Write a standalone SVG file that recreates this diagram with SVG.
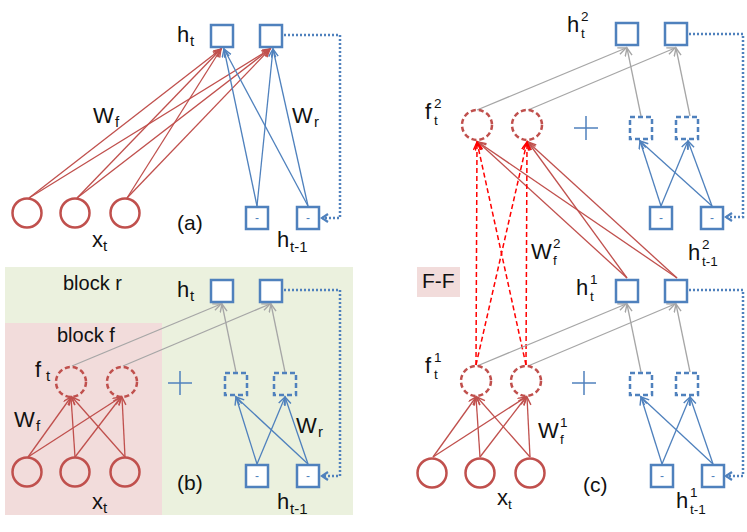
<svg xmlns="http://www.w3.org/2000/svg" width="747" height="532" viewBox="0 0 747 532">
<style>
text{font-family:"Liberation Sans",Arial,sans-serif;fill:#111}
.m{font-size:22px}
.s{font-size:15px}
.t{font-size:13.5px}
.p{font-size:21px}
.b{font-size:20px}
.box{fill:#fff;stroke:#4F81BD;stroke-width:2.5}
.dbox{fill:none;stroke:#4F81BD;stroke-width:2.5;stroke-dasharray:5 3}
.cir{fill:none;stroke:#C0504D;stroke-width:2.5}
.dcir{fill:none;stroke:#C0504D;stroke-width:2.5;stroke-dasharray:5 3}
.minus{font-size:12px;fill:#4F81BD;text-anchor:middle}
.r{stroke:#C0504D;stroke-width:1.3;fill:none;marker-end:url(#ar)}
.bl{stroke:#4F81BD;stroke-width:1.3;fill:none;marker-end:url(#ab)}
.g{stroke:#A6A6A6;stroke-width:1.3;fill:none;marker-end:url(#ag)}
.rd{stroke:#FF0000;stroke-width:1.5;fill:none;stroke-dasharray:5 3;marker-end:url(#ard)}
.dot{stroke:#4F81BD;stroke-width:2.5;fill:none;stroke-dasharray:2 2;marker-end:url(#adot)}
.plus{stroke:#4F81BD;stroke-width:1.5}
</style>
<defs>
<marker id="ar" markerUnits="userSpaceOnUse" markerWidth="12" markerHeight="12" refX="9" refY="4" orient="auto"><path d="M1,0.5 L9,4 L1,7.5" fill="none" stroke="#C0504D" stroke-width="1.4"/></marker>
<marker id="ab" markerUnits="userSpaceOnUse" markerWidth="12" markerHeight="12" refX="9" refY="4" orient="auto"><path d="M1,0.5 L9,4 L1,7.5" fill="none" stroke="#4F81BD" stroke-width="1.4"/></marker>
<marker id="ag" markerUnits="userSpaceOnUse" markerWidth="12" markerHeight="12" refX="9" refY="4" orient="auto"><path d="M1,0.5 L9,4 L1,7.5" fill="none" stroke="#A6A6A6" stroke-width="1.4"/></marker>
<marker id="ard" markerUnits="userSpaceOnUse" markerWidth="12" markerHeight="12" refX="9" refY="4" orient="auto"><path d="M1,0.5 L9,4 L1,7.5" fill="none" stroke="#FF0000" stroke-width="1.5"/></marker>
<marker id="adot" markerUnits="userSpaceOnUse" markerWidth="12" markerHeight="12" refX="7" refY="5" orient="auto"><path d="M1,1 L7,5 L1,9" fill="none" stroke="#4F81BD" stroke-width="2.2"/></marker>
</defs>

<g id="backgrounds">
<rect x="5" y="267" width="348" height="248" fill="#EBF1DE"/>
<rect x="5" y="323" width="157" height="192" fill="#F2DCDB"/>
<rect x="417" y="267" width="43" height="30" fill="#F2DCDB"/>
</g>

<g id="connectors">
<!-- panel a -->
<line class="r" x1="29" y1="198" x2="221" y2="49"/>
<line class="r" x1="29" y1="198" x2="270" y2="49"/>
<line class="r" x1="77" y1="198" x2="221" y2="49"/>
<line class="r" x1="77" y1="198" x2="270" y2="49"/>
<line class="r" x1="127" y1="198" x2="221" y2="49"/>
<line class="r" x1="127" y1="198" x2="270" y2="49"/>
<line class="bl" x1="257" y1="206" x2="224" y2="49"/>
<line class="bl" x1="257" y1="206" x2="273" y2="49"/>
<line class="bl" x1="308" y1="206" x2="224" y2="49"/>
<line class="bl" x1="308" y1="206" x2="273" y2="49"/>
<path class="dot" d="M284,35 H340 V218 H322"/>
<!-- panel b -->
<line class="g" x1="72" y1="366" x2="221" y2="304"/>
<line class="g" x1="123" y1="366" x2="270" y2="304"/>
<line class="g" x1="236" y1="372" x2="222" y2="304"/>
<line class="g" x1="285" y1="372" x2="271" y2="304"/>
<line class="r" x1="28" y1="457" x2="71" y2="397"/>
<line class="r" x1="28" y1="457" x2="121" y2="397"/>
<line class="r" x1="75" y1="457" x2="71" y2="397"/>
<line class="r" x1="75" y1="457" x2="121" y2="397"/>
<line class="r" x1="125" y1="457" x2="72" y2="397"/>
<line class="r" x1="125" y1="457" x2="122" y2="397"/>
<line class="bl" x1="257" y1="464" x2="236" y2="397"/>
<line class="bl" x1="257" y1="464" x2="285" y2="397"/>
<line class="bl" x1="308" y1="464" x2="236" y2="397"/>
<line class="bl" x1="308" y1="464" x2="285" y2="397"/>
<path class="dot" d="M284,290 H340 V476 H322"/>
<!-- panel c top -->
<line class="g" x1="477" y1="110" x2="626" y2="48"/>
<line class="g" x1="528" y1="110" x2="675" y2="48"/>
<line class="g" x1="641" y1="116" x2="627" y2="48"/>
<line class="g" x1="690" y1="116" x2="676" y2="48"/>
<line class="bl" x1="661" y1="206" x2="640" y2="141"/>
<line class="bl" x1="661" y1="206" x2="688" y2="141"/>
<line class="bl" x1="712" y1="206" x2="640" y2="141"/>
<line class="bl" x1="712" y1="206" x2="688" y2="141"/>
<path class="dot" d="M689,34 H743 V217 H726"/>
<line class="r" x1="627" y1="278" x2="478" y2="142"/>
<line class="r" x1="627" y1="278" x2="528" y2="142"/>
<line class="r" x1="677" y1="278" x2="478" y2="142"/>
<line class="r" x1="677" y1="278" x2="528" y2="142"/>
<line class="rd" x1="476" y1="365" x2="477" y2="142"/>
<line class="rd" x1="476" y1="365" x2="527" y2="142"/>
<line class="rd" x1="526" y1="365" x2="477" y2="142"/>
<line class="rd" x1="526" y1="365" x2="527" y2="142"/>
<!-- panel c bottom -->
<line class="g" x1="477" y1="366" x2="626" y2="304"/>
<line class="g" x1="528" y1="366" x2="675" y2="304"/>
<line class="g" x1="641" y1="372" x2="627" y2="304"/>
<line class="g" x1="690" y1="372" x2="676" y2="304"/>
<line class="r" x1="433" y1="457" x2="476" y2="397"/>
<line class="r" x1="433" y1="457" x2="526" y2="397"/>
<line class="r" x1="480" y1="457" x2="476" y2="397"/>
<line class="r" x1="480" y1="457" x2="526" y2="397"/>
<line class="r" x1="530" y1="457" x2="477" y2="397"/>
<line class="r" x1="530" y1="457" x2="527" y2="397"/>
<line class="bl" x1="662" y1="464" x2="641" y2="397"/>
<line class="bl" x1="662" y1="464" x2="690" y2="397"/>
<line class="bl" x1="713" y1="464" x2="641" y2="397"/>
<line class="bl" x1="713" y1="464" x2="690" y2="397"/>
<path class="dot" d="M689,290 H743 V476 H726"/>
</g>

<!-- panel a nodes -->
<g id="a-h1"><rect class="box" x="211" y="25" width="22" height="22"/></g>
<g id="a-h2"><rect class="box" x="260" y="25" width="22" height="22"/></g>
<g id="a-x1"><circle class="cir" cx="27" cy="213" r="14.5"/></g>
<g id="a-x2"><circle class="cir" cx="75" cy="213" r="14.5"/></g>
<g id="a-x3"><circle class="cir" cx="125" cy="213" r="14.5"/></g>
<g id="a-p1"><rect class="box" x="246" y="207" width="22" height="22"/><text class="minus" x="257" y="222">-</text></g>
<g id="a-p2"><rect class="box" x="297" y="207" width="22" height="22"/><text class="minus" x="308" y="222">-</text></g>

<!-- panel b nodes -->
<g id="b-h1"><rect class="box" x="211" y="280" width="22" height="22"/></g>
<g id="b-h2"><rect class="box" x="260" y="280" width="22" height="22"/></g>
<g id="b-f1"><circle class="dcir" cx="71" cy="382" r="15"/></g>
<g id="b-f2"><circle class="dcir" cx="122" cy="382" r="15"/></g>
<g id="b-r1"><rect class="dbox" x="225" y="373" width="22" height="22"/></g>
<g id="b-r2"><rect class="dbox" x="274" y="373" width="22" height="22"/></g>
<g id="b-x1"><circle class="cir" cx="27" cy="472" r="14.5"/></g>
<g id="b-x2"><circle class="cir" cx="75" cy="472" r="14.5"/></g>
<g id="b-x3"><circle class="cir" cx="125" cy="472" r="14.5"/></g>
<g id="b-p1"><rect class="box" x="246" y="465" width="22" height="22"/><text class="minus" x="257" y="480">-</text></g>
<g id="b-p2"><rect class="box" x="297" y="465" width="22" height="22"/><text class="minus" x="308" y="480">-</text></g>
<g id="b-plus"><line class="plus" x1="168" y1="383" x2="192" y2="383"/><line class="plus" x1="180" y1="371" x2="180" y2="395"/></g>

<!-- panel c top nodes -->
<g id="c-h21"><rect class="box" x="616" y="23" width="22" height="22"/></g>
<g id="c-h22"><rect class="box" x="665" y="23" width="22" height="22"/></g>
<g id="c-f21"><circle class="dcir" cx="477" cy="125" r="15"/></g>
<g id="c-f22"><circle class="dcir" cx="527" cy="125" r="15"/></g>
<g id="c-r21"><rect class="dbox" x="630" y="117" width="22" height="22"/></g>
<g id="c-r22"><rect class="dbox" x="676" y="117" width="22" height="22"/></g>
<g id="c-p21"><rect class="box" x="650" y="207" width="22" height="22"/><text class="minus" x="661" y="222">-</text></g>
<g id="c-p22"><rect class="box" x="701" y="207" width="22" height="22"/><text class="minus" x="712" y="222">-</text></g>
<g id="c-plus2"><line class="plus" x1="574" y1="128" x2="598" y2="128"/><line class="plus" x1="586" y1="116" x2="586" y2="140"/></g>

<!-- panel c bottom nodes -->
<g id="c-h11"><rect class="box" x="616" y="280" width="22" height="22"/></g>
<g id="c-h12"><rect class="box" x="665" y="280" width="22" height="22"/></g>
<g id="c-f11"><circle class="dcir" cx="476" cy="381" r="15"/></g>
<g id="c-f12"><circle class="dcir" cx="526" cy="381" r="15"/></g>
<g id="c-r11"><rect class="dbox" x="630" y="373" width="22" height="22"/></g>
<g id="c-r12"><rect class="dbox" x="676" y="373" width="22" height="22"/></g>
<g id="c-x1"><circle class="cir" cx="432" cy="473" r="14.5"/></g>
<g id="c-x2"><circle class="cir" cx="480" cy="473" r="14.5"/></g>
<g id="c-x3"><circle class="cir" cx="530" cy="473" r="14.5"/></g>
<g id="c-p11"><rect class="box" x="651" y="465" width="22" height="22"/><text class="minus" x="662" y="480">-</text></g>
<g id="c-p12"><rect class="box" x="702" y="465" width="22" height="22"/><text class="minus" x="713" y="480">-</text></g>
<g id="c-plus1"><line class="plus" x1="572" y1="383" x2="596" y2="383"/><line class="plus" x1="584" y1="371" x2="584" y2="395"/></g>

<g id="labels">
<!-- a -->
<text class="m" x="177" y="42">h<tspan class="s" x="190" y="46">t</tspan></text>
<text class="m" x="93" y="123">W<tspan class="s" x="115" y="127">f</tspan></text>
<text class="m" x="292" y="123">W<tspan class="s" x="314" y="127">r</tspan></text>
<text class="p" x="177" y="230">(a)</text>
<text class="m" x="92" y="247">x<tspan class="s" x="103" y="251">t</tspan></text>
<text class="m" x="277" y="247">h<tspan class="s" x="290" y="252">t-1</tspan></text>
<!-- b -->
<text class="b" x="63" y="290">block r</text>
<text class="b" x="57" y="342">block f</text>
<text class="m" x="177" y="297">h<tspan class="s" x="190" y="301">t</tspan></text>
<text class="m" x="35" y="377">f<tspan class="s" x="46" y="381">t</tspan></text>
<text class="m" x="14" y="427">W<tspan class="s" x="36" y="431">f</tspan></text>
<text class="m" x="296" y="433">W<tspan class="s" x="318" y="437">r</tspan></text>
<text class="p" x="177" y="490">(b)</text>
<text class="m" x="92" y="509">x<tspan class="s" x="103" y="513">t</tspan></text>
<text class="m" x="277" y="509">h<tspan class="s" x="290" y="514">t-1</tspan></text>
<!-- c -->
<text class="m" x="567" y="32">h<tspan class="t" x="581" y="21">2</tspan><tspan class="t" x="581" y="38">t</tspan></text>
<text class="m" x="425" y="119">f<tspan class="t" x="434" y="108">2</tspan><tspan class="t" x="434" y="125">t</tspan></text>
<text class="m" x="531" y="259">W<tspan class="t" x="553" y="248">2</tspan><tspan class="t" x="553" y="265">f</tspan></text>
<text class="m" x="688" y="260">h<tspan class="t" x="702" y="249">2</tspan><tspan class="t" x="702" y="266">t-1</tspan></text>
<text class="p" x="422" y="288">F-F</text>
<text class="m" x="576" y="295">h<tspan class="t" x="590" y="284">1</tspan><tspan class="t" x="590" y="301">t</tspan></text>
<text class="m" x="425" y="373">f<tspan class="t" x="434" y="362">1</tspan><tspan class="t" x="434" y="379">t</tspan></text>
<text class="m" x="538" y="438">W<tspan class="t" x="560" y="427">1</tspan><tspan class="t" x="560" y="444">f</tspan></text>
<text class="p" x="583" y="492">(c)</text>
<text class="m" x="497" y="505">x<tspan class="t" x="508" y="509">t</tspan></text>
<text class="m" x="676" y="508">h<tspan class="t" x="690" y="497">1</tspan><tspan class="t" x="690" y="514">t-1</tspan></text>
</g>
</svg>
